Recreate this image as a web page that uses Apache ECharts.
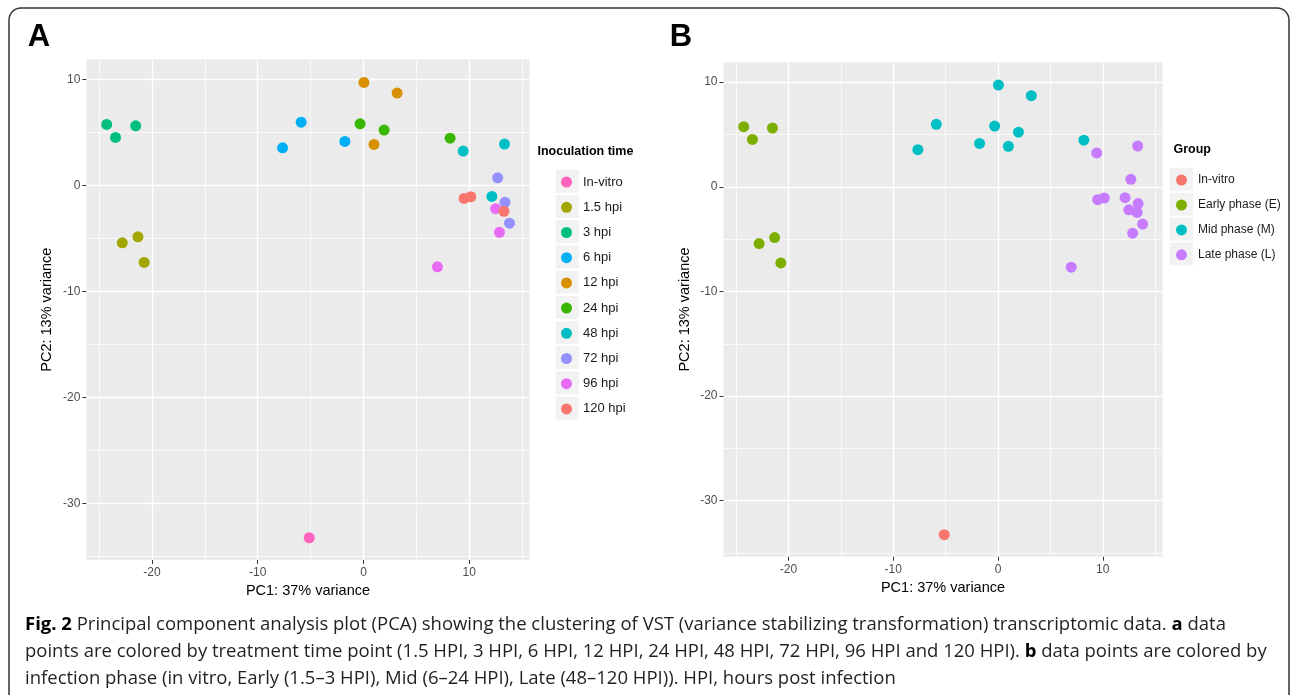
<!DOCTYPE html>
<html>
<head>
<meta charset="utf-8">
<script src="https://cdn.jsdelivr.net/npm/echarts@6/dist/echarts.min.js"></script>
<style>
  html, body { margin: 0; padding: 0; background: #fff; }
  #chart { width: 1290px; height: 695px; }
</style>
</head>
<body>
<div id="chart"></div>
<script>
// one entry per sample
const timePoint = [
  'In-vitro',
  '1.5 hpi', '1.5 hpi', '1.5 hpi',
  '3 hpi', '3 hpi', '3 hpi',
  '6 hpi', '6 hpi', '6 hpi',
  '12 hpi', '12 hpi', '12 hpi',
  '24 hpi', '24 hpi', '24 hpi',
  '48 hpi', '48 hpi', '48 hpi',
  '72 hpi', '72 hpi', '72 hpi',
  '96 hpi', '96 hpi', '96 hpi',
  '120 hpi', '120 hpi', '120 hpi'
]
const phase = [
  'In-vitro',
  'Early phase (E)', 'Early phase (E)', 'Early phase (E)',
  'Early phase (E)', 'Early phase (E)', 'Early phase (E)',
  'Mid phase (M)', 'Mid phase (M)', 'Mid phase (M)',
  'Mid phase (M)', 'Mid phase (M)', 'Mid phase (M)',
  'Mid phase (M)', 'Mid phase (M)', 'Mid phase (M)',
  'Late phase (L)', 'Late phase (L)', 'Late phase (L)',
  'Late phase (L)', 'Late phase (L)', 'Late phase (L)',
  'Late phase (L)', 'Late phase (L)', 'Late phase (L)',
  'Late phase (L)', 'Late phase (L)', 'Late phase (L)'
]
const pc1 = [
  -5.13,
  -22.8, -21.32, -20.73,
  -24.27, -23.44, -21.53,
  -7.65, -5.89, -1.76,
  0.04, 3.18, 0.99,
  -0.32, 1.95, 8.19,
  9.42, 13.33, 12.13,
  12.68, 13.37, 13.8,
  6.99, 12.49, 12.85,
  9.51, 10.14, 13.28
]
const pc2 = [
  -33.25,
  -5.42, -4.85, -7.27,
  5.75, 4.53, 5.62,
  3.55, 5.97, 4.15,
  9.72, 8.71, 3.87,
  5.81, 5.22, 4.46,
  3.24, 3.9, -1.04,
  0.72, -1.6, -3.56,
  -7.68, -2.2, -4.43,
  -1.23, -1.07, -2.45
]

const timeGroups = ['In-vitro', '1.5 hpi', '3 hpi', '6 hpi', '12 hpi', '24 hpi', '48 hpi', '72 hpi', '96 hpi', '120 hpi']
const phaseGroups = ['In-vitro', 'Early phase (E)', 'Mid phase (M)', 'Late phase (L)']

const xTicks = [-20, -10, 0, 10]
const xMinor = [-25, -15, -5, 5, 15]
const yTicks = [-30, -20, -10, 0, 10]
const yMinor = [-35, -25, -15, -5, 5]

// ggplot hue palette
const timeColors = ['#FF62BC', '#A3A500', '#00BF7D', '#00B0F6', '#D89000', '#39B600', '#00BFC4', '#9590FF', '#E76BF3', '#F8766D']
const phaseColors = ['#F8766D', '#7CAE00', '#00BFC4', '#C77CFF']

const FONT = 'Liberation Sans, Arial, sans-serif'
const xRange = [-26.2, 15.7]
const yRange = [-35.35, 11.9]

function xAxes(gridIndex, nameGap) {
  return [{
    gridIndex: gridIndex,
    type: 'value',
    min: xRange[0],
    max: xRange[1],
    name: 'PC1: 37% variance',
    nameLocation: 'middle',
    nameGap: nameGap,
    nameTextStyle: { color: '#000', fontSize: 14.5, fontFamily: FONT },
    axisLine: { show: false, onZero: false },
    axisTick: { show: true, length: 4, customValues: xTicks, lineStyle: { color: '#333', width: 1 } },
    axisLabel: { customValues: xTicks, color: '#4D4D4D', fontSize: 12, fontFamily: FONT, margin: 7 },
    splitLine: { show: true, lineStyle: { color: '#fff', width: 1.4 } }
  }, {
    gridIndex: gridIndex,
    type: 'value',
    min: xRange[0],
    max: xRange[1],
    axisLine: { show: false, onZero: false },
    axisTick: { show: false, customValues: xMinor },
    axisLabel: { show: false, customValues: xMinor },
    splitLine: { show: true, lineStyle: { color: '#fff', width: 0.7 } }
  }]
}

function yAxes(gridIndex, nameGap) {
  return [{
    gridIndex: gridIndex,
    type: 'value',
    min: yRange[0],
    max: yRange[1],
    name: 'PC2: 13% variance',
    nameLocation: 'middle',
    nameGap: nameGap,
    nameTextStyle: { color: '#000', fontSize: 14.5, fontFamily: FONT },
    axisLine: { show: false, onZero: false },
    axisTick: { show: true, length: 4, customValues: yTicks, lineStyle: { color: '#333', width: 1 } },
    axisLabel: { customValues: yTicks, color: '#4D4D4D', fontSize: 12, fontFamily: FONT, margin: 6 },
    splitLine: { show: true, lineStyle: { color: '#fff', width: 1.4 } }
  }, {
    gridIndex: gridIndex,
    type: 'value',
    min: yRange[0],
    max: yRange[1],
    axisLine: { show: false, onZero: false },
    axisTick: { show: false, customValues: yMinor },
    axisLabel: { show: false, customValues: yMinor },
    splitLine: { show: true, lineStyle: { color: '#fff', width: 0.7 } }
  }]
}

function buildSeries(groups, colors, key, axisIndex) {
  return groups.map(function(g, k) {
    const data = []
    for (let i = 0; i < key.length; i++) {
      if (key[i] === g) data.push([pc1[i], pc2[i]])
    }
    return {
      type: 'scatter',
      name: g,
      xAxisIndex: axisIndex,
      yAxisIndex: axisIndex,
      symbolSize: 11,
      itemStyle: { color: colors[k], opacity: 1 },
      data: data,
      silent: true,
      z: 3
    }
  })
}

function legend(groups, colors, left, top, gap, fontSize) {
  return {
    orient: 'vertical',
    left: left,
    top: top,
    itemWidth: 23,
    itemHeight: 11,
    itemGap: gap,
    icon: 'circle',
    selectedMode: false,
    data: groups.map((n, i) => ({ name: n, itemStyle: { color: colors[i] } })),
    textStyle: { color: '#1A1A1A', fontSize: fontSize, fontFamily: FONT }
  }
}

// grey legend key boxes
function keyBoxes(n, x, firstCenter, step) {
  const out = []
  for (let i = 0; i < n; i++) {
    out.push({
      type: 'rect',
      z: 0,
      shape: { x: x, y: firstCenter + i * step - 11.5, width: 23.3, height: 23 },
      style: { fill: '#F2F2F2' }
    })
  }
  return out
}

const captionRich = { b: { fontWeight: 'bold', fontSize: 18.5, fontFamily: 'Open Sans', fill: '#000' } }

const chart = echarts.init(document.getElementById('chart'))
chart.setOption({
  backgroundColor: '#fff',
  animation: false,
  grid: [
    { left: 86.3, top: 59.3, width: 443.3, height: 500.7, show: true, backgroundColor: '#EBEBEB', borderWidth: 0 },
    { left: 723.5, top: 62.3, width: 439, height: 494.4, show: true, backgroundColor: '#EBEBEB', borderWidth: 0 }
  ],
  xAxis: xAxes(0, 23).concat(xAxes(1, 24)),
  yAxis: yAxes(0, 32).concat(yAxes(1, 31)),
  legend: [
    legend(timeGroups, timeColors, 556, 170.6, 12.2, 13),
    legend(phaseGroups, phaseColors, 1171, 169.1, 12.9, 12)
  ],
  series: buildSeries(timeGroups, timeColors, timePoint, 0)
    .concat(buildSeries(phaseGroups, phaseColors, phase, 2)),
  graphic: [
    {
      type: 'rect', z: 0,
      shape: { x: 9, y: 8, width: 1280, height: 720, r: 12 },
      style: { fill: 'none', stroke: '#333', lineWidth: 1.5 }
    },
    { type: 'text', x: 39, y: 37, style: { text: 'A', font: 'bold 31px ' + FONT, fill: '#000', align: 'center', verticalAlign: 'middle' } },
    { type: 'text', x: 681, y: 37.5, style: { text: 'B', font: 'bold 31px ' + FONT, fill: '#000', align: 'center', verticalAlign: 'middle' } },
    { type: 'text', x: 537.5, y: 152, style: { text: 'Inoculation time', font: 'bold 12.5px ' + FONT, fill: '#000', verticalAlign: 'middle' } },
    { type: 'text', x: 1173.5, y: 150, style: { text: 'Group', font: 'bold 12.5px ' + FONT, fill: '#000', verticalAlign: 'middle' } },
    {
      type: 'text', x: 25, y: 625,
      style: {
        text: '{b|Fig. 2} Principal component analysis plot (PCA) showing the clustering of VST (variance stabilizing transformation) transcriptomic data. {b|a} data',
        font: '18.5px Open Sans', fill: '#231F20', verticalAlign: 'middle', rich: captionRich
      }
    },
    {
      type: 'text', x: 25, y: 652,
      style: {
        text: 'points are colored by treatment time point (1.5 HPI, 3 HPI, 6 HPI, 12 HPI, 24 HPI, 48 HPI, 72 HPI, 96 HPI and 120 HPI). {b|b} data points are colored by',
        font: '18.5px Open Sans', fill: '#231F20', verticalAlign: 'middle', rich: captionRich
      }
    },
    {
      type: 'text', x: 25, y: 679,
      style: {
        text: 'infection phase (in vitro, Early (1.5–3 HPI), Mid (6–24 HPI), Late (48–120 HPI)). HPI, hours post infection',
        font: '18.5px Open Sans', fill: '#231F20', verticalAlign: 'middle'
      }
    }
  ].concat(keyBoxes(timeGroups.length, 555.6, 181.3, 25.2))
   .concat(keyBoxes(phaseGroups.length, 1169.8, 179.3, 24.9))
})
</script>
</body>
</html>
